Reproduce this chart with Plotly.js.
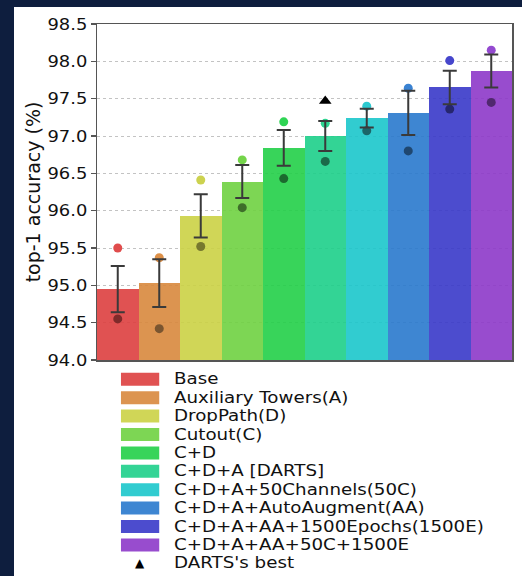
<!DOCTYPE html>
<html><head><meta charset="utf-8">
<script src="https://cdn.plot.ly/plotly-3.0.1.min.js"></script>
<style>
html,body{margin:0;padding:0;background:#0e1e3e;width:522px;height:576px;overflow:hidden;}
#chart{position:absolute;left:14px;top:7px;width:508px;height:569px;background:#fff;}
</style></head><body><div id="chart"></div>
<script>
// ---- data ----
const categories = ['Base','Auxiliary Towers(A)','DropPath(D)','Cutout(C)','C+D','C+D+A [DARTS]',
  'C+D+A+50Channels(50C)','C+D+A+AutoAugment(AA)','C+D+A+AA+1500Epochs(1500E)','C+D+A+AA+50C+1500E'];
const meanAcc = [94.95, 95.03, 95.93, 96.39, 96.84, 97.00, 97.24, 97.31, 97.65, 97.87];
const stdAcc  = [0.31, 0.32, 0.29, 0.22, 0.24, 0.20, 0.125, 0.295, 0.225, 0.22];
const maxAcc  = [95.50, 95.37, 96.41, 96.68, 97.19, 97.17, 97.40, 97.64, 98.01, 98.15];
const minAcc  = [94.55, 94.42, 95.52, 96.04, 96.43, 96.66, 97.07, 96.80, 97.36, 97.45];
const bestLabel = "DARTS's best";
const bestCategory = ['C+D+A [DARTS]'];
const bestAcc = [97.47];
const yTickVals = [94.0, 94.5, 95.0, 95.5, 96.0, 96.5, 97.0, 97.5, 98.0, 98.5];
const yTickText = ['94.0','94.5','95.0','95.5','96.0','96.5','97.0','97.5','98.0','98.5'];
const yTitle = 'top-1 accuracy (%)';

// ---- styles ----
const barColors = ['#dd3f3f','#d8883d','#cbd145','#6fd141','#22cf48','#1dcf8a','#1bc6cb','#2979cd','#3838c9','#8d38c9'];
const dotColors = ['#e04c4c','#dd9048','#ccd24f','#74d44a','#2ed454','#2ed490','#2cc9cf','#3a82d2','#4646cc','#944ad0'];
const darkDotColors = ['#7e2a2a','#7a5530','#76782e','#3e6e2a','#1c6a2e','#1b6a4a','#1b6668','#1f4770','#26266e','#50286e'];
const FONT = 'DejaVu Sans';

const W = 508, H = 569, M = {l: 83, r: 9.5, t: 17, b: 216};
const PW = W - M.l - M.r, PH = H - M.t - M.b;
const fx = px => (px - 14 - M.l) / PW;            // page x -> paper
const fy = py => (H - M.b - (py - 7)) / PH;        // page y -> paper

const traces = [
  {type: 'bar', x: categories, y: meanAcc, marker: {color: barColors, opacity: 0.9, line: {width: 0}}},
  {type: 'scatter', mode: 'markers', x: categories, y: maxAcc, marker: {size: 9, color: dotColors}},
  {type: 'scatter', mode: 'markers', x: categories, y: minAcc, marker: {size: 9, color: darkDotColors}},
  {type: 'scatter', mode: 'markers', x: categories, y: meanAcc, marker: {size: 1, color: 'rgba(0,0,0,0)'},
   error_y: {type: 'data', array: stdAcc, visible: true, color: '#3a3a3a', thickness: 2, width: 7}},
  {type: 'scatter', mode: 'markers', x: bestCategory, y: bestAcc, marker: {symbol: 'triangle-up', size: 11, color: '#000'}}
];

const LEG_FONT = 15.6, LEG_STRETCH = 1.17;
const shapes = [], annotations = [];
const legendY0 = 379.3, legendStep = 18.4;
categories.forEach((c, i) => {
  const cy = legendY0 + legendStep * i;
  shapes.push({type: 'rect', xref: 'paper', yref: 'paper', x0: fx(121), x1: fx(159.3), y0: fy(cy + 6.5), y1: fy(cy - 6.5),
    fillcolor: barColors[i], opacity: 0.9, line: {width: 0}});
  annotations.push({xref: 'paper', yref: 'paper', x: fx(173), y: fy(cy), text: c, showarrow: false,
    xanchor: 'left', yanchor: 'middle', borderpad: 0, font: {family: FONT, size: LEG_FONT, color: '#111'}});
});
const by = legendY0 + legendStep * categories.length;
annotations.push({xref: 'paper', yref: 'paper', x: fx(140), y: fy(by), text: '▲', showarrow: false,
  xanchor: 'center', yanchor: 'middle', borderpad: 0, font: {family: FONT, size: 12, color: '#000'}});
annotations.push({xref: 'paper', yref: 'paper', x: fx(173), y: fy(by), text: bestLabel, showarrow: false,
  xanchor: 'left', yanchor: 'middle', borderpad: 0, font: {family: FONT, size: LEG_FONT, color: '#111'}});

const layout = {
  width: W, height: H, margin: M,
  paper_bgcolor: '#ffffff', plot_bgcolor: '#ffffff',
  showlegend: false, hovermode: false, bargap: 0,
  font: {family: FONT, color: '#111'},
  xaxis: {type: 'category', range: [-0.5, 9.5], showticklabels: false, ticks: '', showgrid: false,
    showline: true, mirror: true, linecolor: '#555', linewidth: 1.5, zeroline: false, automargin: false},
  yaxis: {range: [94, 98.5], tickvals: yTickVals, ticktext: yTickText, ticks: 'outside', ticklen: 5,
    tickwidth: 1.2, tickcolor: '#555', showgrid: true, gridcolor: '#bdbdbd', griddash: 'dot', gridwidth: 0.9,
    showline: true, mirror: true, linecolor: '#555', linewidth: 1.5, zeroline: false, automargin: false,
    tickfont: {family: FONT, size: 16, color: '#111'},
    title: {text: yTitle, font: {family: FONT, size: 19, color: '#111'}, standoff: 6}},
  shapes: shapes, annotations: annotations
};

function stretchText(el, s, pivotRight) {
  const bb = el.getBBox();
  const px = pivotRight ? bb.x + bb.width : bb.x;
  const prev = el.getAttribute('transform') || '';
  el.setAttribute('transform', prev + ` translate(${px},0) scale(${s},1) translate(${-px},0)`);
}

Plotly.newPlot('chart', traces, layout, {staticPlot: true, displayModeBar: false}).then(gd => {
  gd.querySelectorAll('g.annotation').forEach(a => {
    const t = a.querySelector('text.annotation-text');
    if (t && t.textContent !== '▲') stretchText(t, LEG_STRETCH, false);
  });
  gd.querySelectorAll('g.ytick text').forEach(t => stretchText(t, 1.12, true));
});
</script></body></html>
